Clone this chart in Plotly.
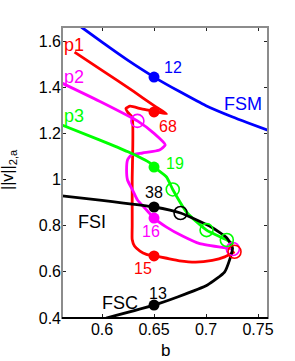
import plotly.graph_objects as go

# ---- data ----
fsm_b = [0.580, 0.600, 0.625, 0.650, 0.675, 0.700, 0.725, 0.740, 0.760]
fsm_v = [1.661, 1.595, 1.516, 1.444, 1.380, 1.320, 1.272, 1.246, 1.213]

p1_b = [0.5736, 0.600, 0.630, 0.650, 0.662, 0.650, 0.638, 0.627, 0.623, 0.625, 0.629, 0.629, 0.629, 0.629, 0.6312, 0.6365, 0.6427, 0.650, 0.661, 0.6745, 0.690, 0.706, 0.718, 0.7274]
p1_v = [1.552, 1.473, 1.383, 1.320, 1.285, 1.296, 1.306, 1.318, 1.308, 1.290, 1.270, 1.000, 0.800, 0.740, 0.712, 0.690, 0.676, 0.669, 0.660, 0.648, 0.642, 0.650, 0.665, 0.687]

p2_b = [0.5615, 0.600, 0.634, 0.650, 0.6608, 0.6553, 0.639, 0.628, 0.6245, 0.6236, 0.6245, 0.6293, 0.6341, 0.6428, 0.650, 0.662, 0.6774, 0.694, 0.7197, 0.7258]
p2_v = [1.418, 1.334, 1.254, 1.200, 1.150, 1.128, 1.115, 1.106, 1.085, 1.041, 0.998, 0.955, 0.911, 0.868, 0.833, 0.794, 0.755, 0.722, 0.703, 0.699]

p3_b = [0.5615, 0.598, 0.625, 0.646, 0.650, 0.662, 0.668, 0.682, 0.7005, 0.720, 0.7265]
p3_v = [1.236, 1.171, 1.120, 1.072, 1.054, 1.011, 0.957, 0.855, 0.781, 0.738, 0.720]

fsi_b = [0.5615, 0.600, 0.650, 0.6755, 0.705, 0.720, 0.7255, 0.7226, 0.7178, 0.7014, 0.6726, 0.650, 0.604]
fsi_v = [0.929, 0.910, 0.881, 0.855, 0.794, 0.747, 0.703, 0.651, 0.599, 0.543, 0.491, 0.456, 0.400]

# filled, numbered points
pt_b = [0.650, 0.650, 0.650, 0.650, 0.650, 0.650, 0.650]
pt_v = [1.444, 1.293, 1.054, 0.881, 0.833, 0.669, 0.456]
pt_lab = ["12", "68", "19", "38", "16", "15", "13"]
pt_col = ["#0000ff", "#ff0000", "#00ff00", "#000000", "#ff00ff", "#ff0000", "#000000"]
lab_b = [0.6678, 0.6630, 0.6700, 0.6495, 0.6470, 0.6390, 0.6534]
lab_v = [1.4875, 1.2320, 1.0716, 0.9460, 0.7760, 0.6160, 0.5080]

# open circles (bifurcation points)
oc_b = [0.634, 0.7258, 0.7274, 0.668, 0.7005, 0.720, 0.6755]
oc_v = [1.254, 0.699, 0.687, 0.957, 0.781, 0.738, 0.855]
oc_col = ["#ff00ff", "#ff00ff", "#ff0000", "#00ff00", "#00ff00", "#00ff00", "#000000"]

# curve names
nm_txt = ["p1", "p2", "p3", "FSM", "FSI", "FSC"]
nm_b = [0.5615, 0.5615, 0.5615, 0.7351, 0.5900, 0.6168]
nm_v = [1.583, 1.444, 1.275, 1.327, 0.818, 0.467]
nm_anchor = ["left", "left", "left", "center", "center", "center"]
nm_col = ["#ff0000", "#ff00ff", "#00ff00", "#0000ff", "#000000", "#000000"]

x_ticks = [0.6, 0.65, 0.7, 0.75]
x_tick_text = ["0.6", "0.65", "0.7", "0.75"]
y_ticks = [0.4, 0.6, 0.8, 1.0, 1.2, 1.4, 1.6]
y_tick_text = ["0.4", "0.6", "0.8", "1", "1.2", "1.4", "1.6"]

FONT = "Liberation Sans, Arial, Helvetica, sans-serif"

fig = go.Figure()
LW = 2.8
for bx, vy, c in [(fsm_b, fsm_v, "#0000ff"), (p1_b, p1_v, "#ff0000"), (p2_b, p2_v, "#ff00ff"),
                  (p3_b, p3_v, "#00ff00"), (fsi_b, fsi_v, "#000000")]:
    fig.add_trace(go.Scatter(x=bx, y=vy, mode="lines",
                             line=dict(color=c, width=LW, shape="spline", smoothing=0.5),
                             hoverinfo="skip", showlegend=False, cliponaxis=True))

fig.add_trace(go.Scatter(x=oc_b, y=oc_v, mode="markers",
                         marker=dict(symbol="circle-open", size=13, color=oc_col, line=dict(width=1.6)),
                         showlegend=False, hoverinfo="skip"))
fig.add_trace(go.Scatter(x=pt_b, y=pt_v, mode="markers",
                         marker=dict(symbol="circle", size=11, color=pt_col),
                         showlegend=False, hoverinfo="skip"))

for t, bx, vy, c in zip(pt_lab, lab_b, lab_v, pt_col):
    fig.add_annotation(x=bx, y=vy, text=t, showarrow=False, xanchor="center", yanchor="middle",
                       font=dict(family=FONT, size=16, color=c))
for t, bx, vy, a, c in zip(nm_txt, nm_b, nm_v, nm_anchor, nm_col):
    fig.add_annotation(x=bx, y=vy, text=t, showarrow=False, xanchor=a, yanchor="middle",
                       font=dict(family=FONT, size=18, color=c))

# axis labels
fig.add_annotation(xref="paper", yref="paper", x=0.5, y=-0.11, text="b", showarrow=False,
                   xanchor="center", yanchor="middle", font=dict(family=FONT, size=17, color="black"))
fig.add_annotation(xref="paper", yref="paper", x=-0.257, y=0.509, text="||v||<sub>2,a</sub>",
                   showarrow=False, textangle=-90, xanchor="center", yanchor="middle",
                   font=dict(family=FONT, size=16, color="black"))

# frame
fig.add_shape(type="rect", xref="paper", yref="paper", x0=0, x1=1, y0=0, y1=1,
              line=dict(color="#8c8c8c", width=2), layer="above")
fig.add_shape(type="line", xref="paper", yref="paper", x0=0, x1=1, y0=0, y1=0,
              line=dict(color="#000000", width=2), layer="above")

fig.update_xaxes(range=[0.5615, 0.7596], tickvals=x_ticks, ticktext=x_tick_text,
                 ticks="inside", ticklen=4, tickcolor="#222", mirror="ticks", showline=False,
                 showgrid=False, zeroline=False, tickfont=dict(family=FONT, size=16, color="black"))
fig.update_yaxes(range=[0.4, 1.661], tickvals=y_ticks, ticktext=y_tick_text,
                 ticks="inside", ticklen=4, tickcolor="#222", mirror="ticks", showline=False,
                 showgrid=False, zeroline=False, tickfont=dict(family=FONT, size=16, color="black"))

fig.update_layout(width=295, height=361, margin=dict(l=62, r=27, t=27, b=43),
                  plot_bgcolor="white", paper_bgcolor="white")

fig.write_html("out.html", config={"displayModeBar": False},
               post_script="document.body.style.margin='0';document.body.style.overflow='hidden';")
